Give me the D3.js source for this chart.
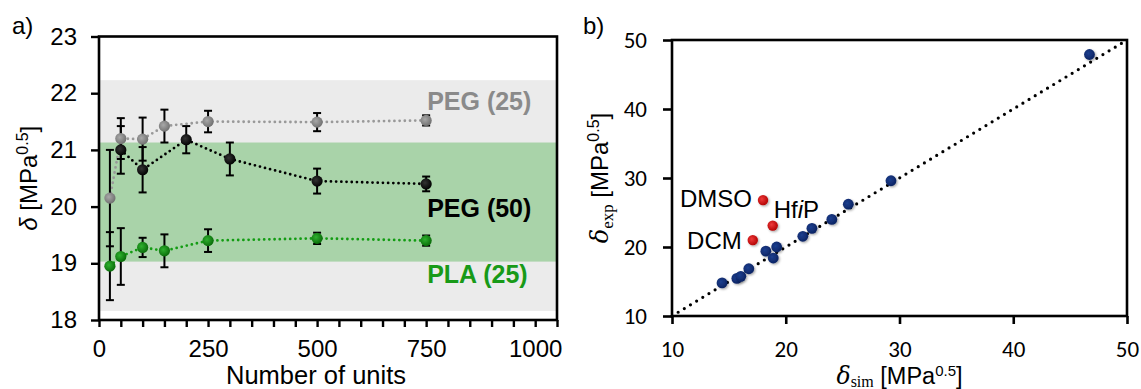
<!DOCTYPE html>
<html>
<head>
<meta charset="utf-8">
<script src="https://cdn.jsdelivr.net/npm/d3@7"></script>
<style>
  html, body { margin: 0; padding: 0; background: #fff; }
  svg { display: block; }
  .sans { font-family: "Liberation Sans", Arial, sans-serif; }
</style>
</head>
<body>
<svg id="fig" width="1141" height="389"></svg>
<script>
// ---- Panel a: solubility parameter vs. number of units ----
const unitTicks = [0, 250, 500, 750, 1000];
const deltaTicks = [18, 19, 20, 21, 22, 23];

const peg25Units = [25, 50, 100, 150, 250, 500, 750];
const peg25 = [20.15, 21.2, 21.19, 21.42, 21.5, 21.49, 21.52];
const peg25Err = [0.85, 0.36, 0.38, 0.29, 0.19, 0.16, 0.09];

const peg50Units = [50, 100, 200, 300, 500, 750];
const peg50 = [21.0, 20.65, 21.18, 20.84, 20.45, 20.4];
const peg50Err = [0.42, 0.4, 0.24, 0.29, 0.22, 0.13];

const pla25Units = [25, 50, 100, 150, 250, 500, 750];
const pla25 = [18.95, 19.12, 19.28, 19.22, 19.4, 19.44, 19.4];
const pla25Err = [0.6, 0.5, 0.17, 0.29, 0.2, 0.1, 0.09];

// reference ranges shaded behind the data
const pegBand = [18.16, 22.23];
const plaBand = [19.03, 21.13];

// ---- Panel b: experimental vs simulated parameter ----
const simTicks = [10, 20, 30, 40, 50];
const expTicks = [10, 20, 30, 40, 50];
const solventSim = [14.4, 15.7, 16.05, 16.75, 18.25, 19.2, 18.9, 21.5, 22.3, 24.05, 25.5, 29.25, 46.7];
const solventExp = [14.8, 15.45, 15.75, 16.85, 19.4, 20.0, 18.4, 21.55, 22.7, 24.0, 26.2, 29.6, 47.9];
const outlierNames = ["DMSO", "HfiP", "DCM"];
const outlierSim = [18.0, 18.85, 17.1];
const outlierExp = [26.8, 23.1, 21.0];

const svg = d3.select("#fig");
const defs = svg.append("defs");

function radial(id, inner, outer) {
  const g = defs.append("radialGradient").attr("id", id)
    .attr("cx", "40%").attr("cy", "40%").attr("r", "65%");
  g.append("stop").attr("offset", "0%").attr("stop-color", inner);
  g.append("stop").attr("offset", "100%").attr("stop-color", outer);
}
radial("gGray", "#a8a8a8", "#6e6e6e");
radial("gGreen", "#2fb12f", "#076807");
radial("gBlack", "#333", "#000");
radial("gRed", "#ee3a3a", "#b00000");
radial("gBlue", "#1c3f8f", "#0b2260");

const shadow = defs.append("filter").attr("id", "shadow")
  .attr("x", "-50%").attr("y", "-50%").attr("width", "200%").attr("height", "200%");
shadow.append("feDropShadow").attr("dx", 1.2).attr("dy", 1.2)
  .attr("stdDeviation", 0.9).attr("flood-color", "#000").attr("flood-opacity", 0.35);

// ================= Panel a =================
const xL = d3.scaleLinear([0, 1050], [99, 557]);
const yL = d3.scaleLinear([18, 23], [320, 36.5]);
const A = svg.append("g");

A.append("rect")
  .attr("x", xL(0)).attr("width", xL(1050) - xL(0))
  .attr("y", yL(pegBand[1])).attr("height", yL(pegBand[0]) - yL(pegBand[1]))
  .attr("fill", "#ebebeb");
A.append("rect")
  .attr("x", xL(0)).attr("width", xL(1050) - xL(0))
  .attr("y", yL(plaBand[1])).attr("height", yL(plaBand[0]) - yL(plaBand[1]))
  .attr("fill", "#a9d3a9");

const seriesA = [
  { u: peg25Units, v: peg25, e: peg25Err, line: "#999999", fill: "url(#gGray)" },
  { u: peg50Units, v: peg50, e: peg50Err, line: "#000000", fill: "url(#gBlack)" },
  { u: pla25Units, v: pla25, e: pla25Err, line: "#139c13", fill: "url(#gGreen)" }
];

const lineA = d3.line().x(d => xL(d[0])).y(d => yL(d[1]));
seriesA.forEach(s => {
  const pts = s.u.map((u, i) => [u, s.v[i]]);
  A.append("path").attr("d", lineA(pts))
    .attr("fill", "none").attr("stroke", s.line)
    .attr("stroke-width", 2.8).attr("stroke-linecap", "round")
    .attr("stroke-dasharray", "0,5.2");
});

// error bars
seriesA.forEach(s => {
  const g = A.append("g").attr("stroke", "#000").attr("stroke-width", 2).attr("fill", "none");
  s.u.forEach((u, i) => {
    const x = xL(u), y0 = yL(s.v[i] - s.e[i]), y1 = yL(s.v[i] + s.e[i]);
    g.append("line").attr("x1", x).attr("x2", x).attr("y1", y0).attr("y2", y1);
    g.append("line").attr("x1", x - 4).attr("x2", x + 4).attr("y1", y0).attr("y2", y0);
    g.append("line").attr("x1", x - 4).attr("x2", x + 4).attr("y1", y1).attr("y2", y1);
  });
});

// markers
seriesA.forEach(s => {
  A.append("g").selectAll("circle")
    .data(s.u.map((u, i) => [u, s.v[i]]))
    .join("circle")
    .attr("cx", d => xL(d[0])).attr("cy", d => yL(d[1]))
    .attr("r", 5.6).attr("fill", s.fill);
});

// axes
const axXL = A.append("g")
  .attr("transform", `translate(0,${yL(18)})`)
  .call(d3.axisBottom(xL).tickValues(d3.range(0, 1051, 50)).tickSize(7).tickPadding(13)
    .tickFormat(d => unitTicks.includes(d) ? String(d) : ""));
const axYL = A.append("g")
  .attr("transform", `translate(${xL(0)},0)`)
  .call(d3.axisLeft(yL).tickValues(deltaTicks).tickSize(8).tickPadding(14)
    .tickFormat(d3.format("d")));
[axXL, axYL].forEach(ax => {
  ax.attr("font-family", "'Liberation Sans', Arial, sans-serif").attr("font-size", 24);
  ax.select(".domain").remove();
  ax.selectAll("line").attr("stroke", "#000").attr("stroke-width", 2.4);
  ax.selectAll("text").attr("fill", "#000");
});

A.append("rect")
  .attr("x", xL(0)).attr("y", yL(23))
  .attr("width", xL(1050) - xL(0)).attr("height", yL(18) - yL(23))
  .attr("fill", "none").attr("stroke", "#000").attr("stroke-width", 2.6);

// series labels
const labA = [
  { t: "PEG (25)", c: "#8a8a8a", y: 110 },
  { t: "PEG (50)", c: "#000000", y: 216.5 },
  { t: "PLA (25)", c: "#189a18", y: 283 }
];
A.append("g").selectAll("text").data(labA).join("text")
  .attr("class", "sans")
  .attr("x", xL(750) + 1).attr("y", d => d.y)
  .attr("fill", d => d.c).attr("font-size", 25).attr("font-weight", "bold")
  .text(d => d.t);

// axis titles
A.append("text").attr("class", "sans")
  .attr("x", 316).attr("y", 384)
  .attr("text-anchor", "middle").attr("font-size", 25.5).attr("fill", "#000")
  .text("Number of units");

const tyL = A.append("text").attr("class", "sans")
  .attr("transform", `translate(37,${(yL(18) + yL(23)) / 2}) rotate(-90)`)
  .attr("text-anchor", "middle").attr("font-size", 24).attr("fill", "#000");
tyL.append("tspan").attr("font-style", "italic").text("δ");
tyL.append("tspan").text(" [MPa");
tyL.append("tspan").attr("font-size", 16).attr("dy", -9).text("0.5");
tyL.append("tspan").attr("dy", 9).text("]");

svg.append("text").attr("class", "sans").attr("x", 12).attr("y", 34)
  .attr("font-size", 24).attr("fill", "#000").text("a)");

// ================= Panel b =================
const xR = d3.scaleLinear([10, 50], [672, 1127]);
const yR = d3.scaleLinear([10, 50], [316, 40]);
const B = svg.append("g");

// y = x parity line
B.append("line")
  .attr("x1", xR(10)).attr("y1", yR(10)).attr("x2", xR(50)).attr("y2", yR(50))
  .attr("stroke", "#000").attr("stroke-width", 3.2).attr("stroke-linecap", "round")
  .attr("stroke-dasharray", "0,7.2");

B.append("g").selectAll("circle")
  .data(solventSim.map((s, i) => [s, solventExp[i]]))
  .join("circle")
  .attr("cx", d => xR(d[0])).attr("cy", d => yR(d[1]))
  .attr("r", 5.4).attr("fill", "url(#gBlue)").attr("filter", "url(#shadow)");

B.append("g").selectAll("circle")
  .data(outlierSim.map((s, i) => [s, outlierExp[i]]))
  .join("circle")
  .attr("cx", d => xR(d[0])).attr("cy", d => yR(d[1]))
  .attr("r", 5.2).attr("fill", "url(#gRed)").attr("filter", "url(#shadow)");

// solvent labels
const labB = B.append("g").attr("class", "sans").attr("font-size", 24).attr("fill", "#000");
labB.append("text").attr("x", xR(outlierSim[0]) - 11).attr("y", yR(outlierExp[0]) + 7)
  .attr("text-anchor", "end").text(outlierNames[0]);
const hf = labB.append("text").attr("x", xR(outlierSim[1]) + 1).attr("y", yR(outlierExp[1]) - 8);
hf.append("tspan").text("Hf");
hf.append("tspan").attr("font-style", "italic").text("i");
hf.append("tspan").text("P");
labB.append("text").attr("x", xR(outlierSim[2]) - 11).attr("y", yR(outlierExp[2]) + 9)
  .attr("text-anchor", "end").text(outlierNames[2]);

const axXR = B.append("g")
  .attr("transform", `translate(0,${yR(10)})`)
  .call(d3.axisBottom(xR).tickValues(simTicks).tickSize(8).tickPadding(17));
const axYR = B.append("g")
  .attr("transform", `translate(${xR(10)},0)`)
  .call(d3.axisLeft(yR).tickValues(expTicks).tickSize(9).tickPadding(16));
[axXR, axYR].forEach(ax => {
  ax.attr("font-family", "Carlito, Calibri, Lato, sans-serif").attr("font-size", 23);
  ax.select(".domain").remove();
  ax.selectAll("line").attr("stroke", "#000").attr("stroke-width", 2.6);
  ax.selectAll("text").attr("fill", "#000");
});

B.append("rect")
  .attr("x", xR(10)).attr("y", yR(50))
  .attr("width", xR(50) - xR(10)).attr("height", yR(10) - yR(50))
  .attr("fill", "none").attr("stroke", "#000").attr("stroke-width", 2.6);

// axis titles with serif delta and subscripts
const txR = B.append("text").attr("class", "sans")
  .attr("x", (xR(10) + xR(50)) / 2).attr("y", 384)
  .attr("text-anchor", "middle").attr("font-size", 23.5).attr("fill", "#000");
txR.append("tspan").attr("font-family", "'DejaVu Serif', serif").attr("font-style", "italic").text("δ");
txR.append("tspan").attr("font-family", "'Liberation Serif', serif").attr("font-size", 16).attr("dy", 3).text("sim");
txR.append("tspan").attr("dy", -3).text(" [MPa");
txR.append("tspan").attr("font-size", 15).attr("dy", -8).text("0.5");
txR.append("tspan").attr("dy", 8).text("]");

const tyR = B.append("text").attr("class", "sans")
  .attr("transform", `translate(608,${(yR(10) + yR(50)) / 2}) rotate(-90)`)
  .attr("text-anchor", "middle").attr("font-size", 24).attr("fill", "#000");
tyR.append("tspan").attr("font-family", "'DejaVu Serif', serif").attr("font-style", "italic").text("δ");
tyR.append("tspan").attr("font-family", "'Liberation Serif', serif").attr("font-size", 17).attr("dy", 5).text("exp");
tyR.append("tspan").attr("dy", -5).text(" [MPa");
tyR.append("tspan").attr("font-size", 16).attr("dy", -9).text("0.5");
tyR.append("tspan").attr("dy", 9).text("]");

svg.append("text").attr("class", "sans").attr("x", 583).attr("y", 34)
  .attr("font-size", 24).attr("fill", "#000").text("b)");
</script>
</body>
</html>
